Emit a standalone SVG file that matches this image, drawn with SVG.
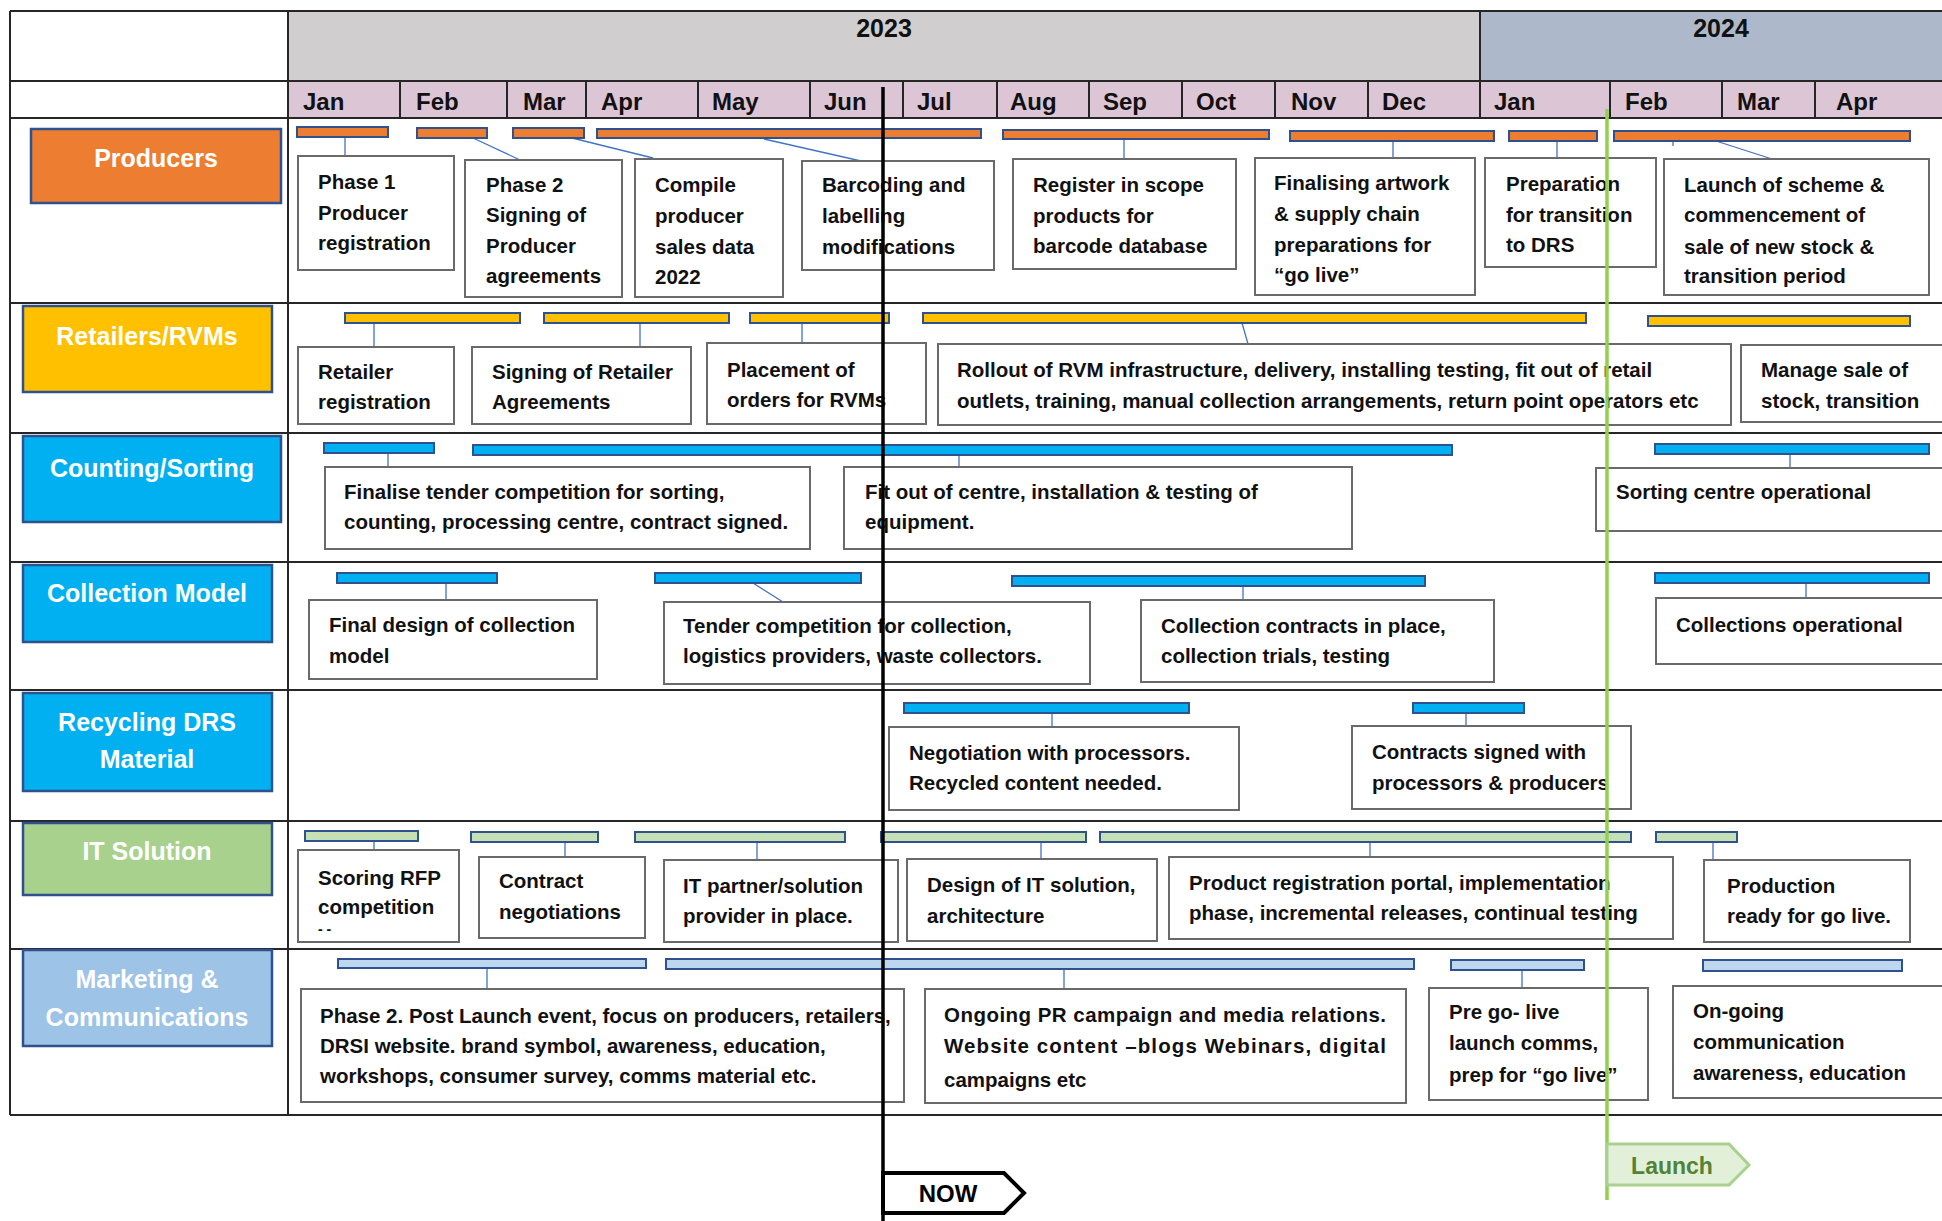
<svg xmlns="http://www.w3.org/2000/svg" width="1942" height="1221" viewBox="0 0 1942 1221">
<style>
.grid{stroke:#262626;stroke-width:2;fill:none}
.lbl{stroke:#2f528f;stroke-width:2.5}
.bar{stroke:#2f528f;stroke-width:2}
.box{fill:#fff;stroke:#6a6a6a;stroke-width:2}
.con{stroke:#4472c4;stroke-width:1.3;fill:none}
text{font-family:"Liberation Sans",Arial,sans-serif;font-weight:bold}
.t{font-size:20.5px;fill:#111}
.lt{font-size:25px;fill:#fff;text-anchor:middle}
.mt{font-size:24px;fill:#111}
.yt{font-size:25px;fill:#111;text-anchor:middle}
</style>
<rect width="1942" height="1221" fill="#fff"/>
<g id="table">
<rect x="288" y="11" width="1192" height="70" fill="#d0cece"/>
<rect x="1480" y="11" width="470" height="70" fill="#adb9ca"/>
<rect x="288" y="81" width="1662" height="37" fill="#dcc6d6"/>
<path class="grid" d="M10,11H1950M10,81H1950M10,118H1950M10,303H1950M10,433H1950M10,562H1950M10,690H1950M10,821H1950M10,949H1950M10,1115H1950M10,11V1115M288,11V1115M1480,11V118"/>
<path class="grid" d="M400,81V118M507,81V118M586,81V118M698,81V118M810,81V118M903,81V118M997,81V118M1089,81V118M1182,81V118M1275,81V118M1368,81V118M1610,81V118M1722,81V118M1815,81V118"/>
<text class="yt" x="884" y="37">2023</text>
<text class="yt" x="1721" y="37">2024</text>
<text class="mt" x="303" y="110">Jan</text>
<text class="mt" x="416" y="110">Feb</text>
<text class="mt" x="523" y="110">Mar</text>
<text class="mt" x="601" y="110">Apr</text>
<text class="mt" x="712" y="110">May</text>
<text class="mt" x="824" y="110">Jun</text>
<text class="mt" x="917" y="110">Jul</text>
<text class="mt" x="1010" y="110">Aug</text>
<text class="mt" x="1103" y="110">Sep</text>
<text class="mt" x="1196" y="110">Oct</text>
<text class="mt" x="1291" y="110">Nov</text>
<text class="mt" x="1382" y="110">Dec</text>
<text class="mt" x="1494" y="110">Jan</text>
<text class="mt" x="1625" y="110">Feb</text>
<text class="mt" x="1737" y="110">Mar</text>
<text class="mt" x="1836" y="110">Apr</text>
</g>
<g id="connectors">
<path class="con" d="M345,137V156M473,138L520,160M572,138L653,158M764,139L861,161M1124,139V159M1393,141V158M1557,141V158M1716,141L1772,159M1673,141V146"/>
<path class="con" d="M374,323V347M640,323V347M802,323V343M1242,323L1248,344"/>
<path class="con" d="M388,453V467M959,455V467M1790,455V468"/>
<path class="con" d="M446,583V600M753,583L783,602M1243,586V600M1806,583V598"/>
<path class="con" d="M1052,713V727M1466,713V726"/>
<path class="con" d="M374,841V850M565,842V857M757,842V860M1041,842V859M1370,842V857M1713,842V860"/>
<path class="con" d="M487,968V989M1064,969V989M1522,970V988"/>
</g>
<g id="producers">
<rect class="lbl" x="31" y="129" width="250" height="74" fill="#ed7d31"/>
<text class="lt" x="156" y="167">Producers</text>
<g fill="#ed7d31">
<rect class="bar" x="297" y="127" width="91" height="10"/>
<rect class="bar" x="417" y="128" width="70" height="10"/>
<rect class="bar" x="513" y="128" width="71" height="10"/>
<rect class="bar" x="597" y="129" width="384" height="9"/>
<rect class="bar" x="1003" y="130" width="266" height="9"/>
<rect class="bar" x="1290" y="131" width="204" height="10"/>
<rect class="bar" x="1509" y="131" width="88" height="10"/>
<rect class="bar" x="1614" y="131" width="296" height="10"/>
</g>
<g id="p-phase1"><rect class="box" x="298" y="156" width="156" height="114"/>
<text class="t" x="318" y="189">Phase 1</text><text class="t" x="318" y="220">Producer</text><text class="t" x="318" y="250">registration</text></g>
<g id="p-phase2"><rect class="box" x="465" y="160" width="157" height="137"/>
<text class="t" x="486" y="192">Phase 2</text><text class="t" x="486" y="222">Signing of</text><text class="t" x="486" y="253">Producer</text><text class="t" x="486" y="283">agreements</text></g>
<g id="p-compile"><rect class="box" x="635" y="159" width="148" height="138"/>
<text class="t" x="655" y="192">Compile</text><text class="t" x="655" y="223">producer</text><text class="t" x="655" y="254">sales data</text><text class="t" x="655" y="284">2022</text></g>
<g id="p-barcoding"><rect class="box" x="802" y="161" width="192" height="109"/>
<text class="t" x="822" y="192">Barcoding and</text><text class="t" x="822" y="223">labelling</text><text class="t" x="822" y="254">modifications</text></g>
<g id="p-register"><rect class="box" x="1013" y="159" width="223" height="110"/>
<text class="t" x="1033" y="192">Register in scope</text><text class="t" x="1033" y="223">products for</text><text class="t" x="1033" y="253">barcode database</text></g>
<g id="p-finalising"><rect class="box" x="1255" y="158" width="220" height="137"/>
<text class="t" x="1274" y="190">Finalising artwork</text><text class="t" x="1274" y="221">&amp; supply chain</text><text class="t" x="1274" y="252">preparations for</text><text class="t" x="1274" y="282">“go live”</text></g>
<g id="p-prep"><rect class="box" x="1485" y="158" width="171" height="109"/>
<text class="t" x="1506" y="191">Preparation</text><text class="t" x="1506" y="222">for transition</text><text class="t" x="1506" y="252">to DRS</text></g>
<g id="p-launch"><rect class="box" x="1664" y="159" width="265" height="136"/>
<text class="t" x="1684" y="192">Launch of scheme &amp;</text><text class="t" x="1684" y="222">commencement of</text><text class="t" x="1684" y="254">sale of new stock &amp;</text><text class="t" x="1684" y="283">transition period</text></g>
</g>
<g id="retailers">
<rect class="lbl" x="23" y="306" width="249" height="86" fill="#ffc000"/>
<text class="lt" x="147" y="345">Retailers/RVMs</text>
<g fill="#ffc000">
<rect class="bar" x="345" y="313" width="175" height="10"/>
<rect class="bar" x="544" y="313" width="185" height="10"/>
<rect class="bar" x="750" y="313" width="139" height="10"/>
<rect class="bar" x="923" y="313" width="663" height="10"/>
<rect class="bar" x="1648" y="316" width="262" height="10"/>
</g>
<g id="r-reg"><rect class="box" x="298" y="347" width="156" height="77"/>
<text class="t" x="318" y="379">Retailer</text><text class="t" x="318" y="409">registration</text></g>
<g id="r-sign"><rect class="box" x="472" y="347" width="219" height="77"/>
<text class="t" x="492" y="379">Signing of Retailer</text><text class="t" x="492" y="409">Agreements</text></g>
<g id="r-place"><rect class="box" x="707" y="343" width="219" height="81"/>
<text class="t" x="727" y="377">Placement of</text><text class="t" x="727" y="407">orders for RVMs</text></g>
<g id="r-rollout"><rect class="box" x="938" y="344" width="793" height="81"/>
<text class="t" x="957" y="377">Rollout of RVM infrastructure, delivery, installing testing, fit out of retail</text>
<text class="t" x="957" y="408">outlets, training, manual collection arrangements, return point operators etc</text></g>
<g id="r-manage"><rect class="box" x="1741" y="345" width="220" height="77"/>
<text class="t" x="1761" y="377">Manage sale of</text><text class="t" x="1761" y="408">stock, transition</text></g>
</g>
<g id="counting">
<rect class="lbl" x="23" y="436" width="258" height="86" fill="#00b0f0"/>
<text class="lt" x="152" y="477">Counting/Sorting</text>
<g fill="#00b0f0">
<rect class="bar" x="324" y="443" width="110" height="10"/>
<rect class="bar" x="473" y="445" width="979" height="10"/>
<rect class="bar" x="1655" y="444" width="274" height="10"/>
</g>
<g id="c-tender"><rect class="box" x="325" y="467" width="485" height="82"/>
<text class="t" x="344" y="499">Finalise tender competition for sorting,</text><text class="t" x="344" y="529">counting, processing centre, contract signed.</text></g>
<g id="c-fitout"><rect class="box" x="844" y="467" width="508" height="82"/>
<text class="t" x="865" y="499">Fit out of centre, installation &amp; testing of</text><text class="t" x="865" y="529">equipment.</text></g>
<g id="c-operational"><rect class="box" x="1596" y="468" width="365" height="63"/>
<text class="t" x="1616" y="499">Sorting centre operational</text></g>
</g>
<g id="collection">
<rect class="lbl" x="23" y="565" width="249" height="77" fill="#00b0f0"/>
<text class="lt" x="147" y="602">Collection Model</text>
<g fill="#00b0f0">
<rect class="bar" x="337" y="573" width="160" height="10"/>
<rect class="bar" x="655" y="573" width="206" height="10"/>
<rect class="bar" x="1012" y="576" width="413" height="10"/>
<rect class="bar" x="1655" y="573" width="274" height="10"/>
</g>
<g id="m-design"><rect class="box" x="309" y="600" width="288" height="79"/>
<text class="t" x="329" y="632">Final design of collection</text><text class="t" x="329" y="663">model</text></g>
<g id="m-tender"><rect class="box" x="664" y="602" width="426" height="82"/>
<text class="t" x="683" y="633">Tender competition for collection,</text><text class="t" x="683" y="663">logistics providers, waste collectors.</text></g>
<g id="m-contracts"><rect class="box" x="1141" y="600" width="353" height="82"/>
<text class="t" x="1161" y="633">Collection contracts in place,</text><text class="t" x="1161" y="663">collection trials, testing</text></g>
<g id="m-operational"><rect class="box" x="1656" y="598" width="305" height="66"/>
<text class="t" x="1676" y="632">Collections operational</text></g>
</g>
<g id="recycling">
<rect class="lbl" x="23" y="693" width="249" height="98" fill="#00b0f0"/>
<text class="lt" x="147" y="731">Recycling DRS</text>
<text class="lt" x="147" y="768">Material</text>
<g fill="#00b0f0">
<rect class="bar" x="904" y="703" width="285" height="10"/>
<rect class="bar" x="1413" y="703" width="111" height="10"/>
</g>
<g id="y-negotiation"><rect class="box" x="889" y="727" width="350" height="83"/>
<text class="t" x="909" y="760">Negotiation with processors.</text><text class="t" x="909" y="790">Recycled content needed.</text></g>
<g id="y-contracts"><rect class="box" x="1352" y="726" width="279" height="83"/>
<text class="t" x="1372" y="759">Contracts signed with</text><text class="t" x="1372" y="790">processors &amp; producers</text></g>
</g>
<g id="it">
<rect class="lbl" x="23" y="823" width="249" height="72" fill="#a9d18e"/>
<text class="lt" x="147" y="860">IT Solution</text>
<g fill="#c5e0b4">
<rect class="bar" x="305" y="831" width="113" height="10"/>
<rect class="bar" x="471" y="832" width="127" height="10"/>
<rect class="bar" x="635" y="832" width="210" height="10"/>
<rect class="bar" x="881" y="832" width="205" height="10"/>
<rect class="bar" x="1100" y="832" width="531" height="10"/>
<rect class="bar" x="1656" y="832" width="81" height="10"/>
</g>
<g id="i-scoring"><rect class="box" x="298" y="850" width="161" height="92"/>
<text class="t" x="318" y="885">Scoring RFP</text><text class="t" x="318" y="914">competition</text><text class="t" x="318" y="934" style="font-size:14px">- -</text></g>
<g id="i-contract"><rect class="box" x="479" y="857" width="166" height="81"/>
<text class="t" x="499" y="888">Contract</text><text class="t" x="499" y="919">negotiations</text></g>
<g id="i-partner"><rect class="box" x="664" y="860" width="234" height="82"/>
<text class="t" x="683" y="893">IT partner/solution</text><text class="t" x="683" y="923">provider in place.</text></g>
<g id="i-design"><rect class="box" x="907" y="859" width="250" height="82"/>
<text class="t" x="927" y="892">Design of IT solution,</text><text class="t" x="927" y="923">architecture</text></g>
<g id="i-portal"><rect class="box" x="1169" y="857" width="504" height="82"/>
<text class="t" x="1189" y="890">Product registration portal, implementation</text><text class="t" x="1189" y="920">phase, incremental releases, continual testing</text></g>
<g id="i-production"><rect class="box" x="1704" y="860" width="206" height="82"/>
<text class="t" x="1727" y="893">Production</text><text class="t" x="1727" y="923">ready for go live.</text></g>
</g>
<g id="marketing">
<rect class="lbl" x="23" y="950" width="249" height="96" fill="#9dc3e6"/>
<text class="lt" x="147" y="988">Marketing &amp;</text>
<text class="lt" x="147" y="1026">Communications</text>
<g fill="#bdd7ee">
<rect class="bar" x="338" y="959" width="308" height="9"/>
<rect class="bar" x="666" y="959" width="748" height="10"/>
<rect class="bar" x="1451" y="960" width="133" height="10"/>
<rect class="bar" x="1703" y="960" width="199" height="11"/>
</g>
<g id="k-phase2"><rect class="box" x="301" y="989" width="603" height="113"/>
<text class="t" x="320" y="1023">Phase 2. Post Launch event, focus on producers, retailers,</text>
<text class="t" x="320" y="1053">DRSI website. brand symbol, awareness, education,</text>
<text class="t" x="320" y="1083">workshops, consumer survey, comms material etc.</text></g>
<g id="k-ongoing-pr"><rect class="box" x="925" y="989" width="481" height="114"/>
<text class="t" x="944" y="1022" textLength="442" lengthAdjust="spacing">Ongoing PR campaign and media relations.</text>
<text class="t" x="944" y="1053" textLength="442" lengthAdjust="spacing">Website content –blogs Webinars, digital</text>
<text class="t" x="944" y="1087">campaigns etc</text></g>
<g id="k-prego"><rect class="box" x="1429" y="988" width="219" height="112"/>
<text class="t" x="1449" y="1019">Pre go- live</text><text class="t" x="1449" y="1050">launch comms,</text><text class="t" x="1449" y="1082">prep for “go live”</text></g>
<g id="k-ongoing"><rect class="box" x="1673" y="986" width="288" height="112"/>
<text class="t" x="1693" y="1018">On-going</text><text class="t" x="1693" y="1049">communication</text><text class="t" x="1693" y="1080">awareness, education</text></g>
</g>
<g id="now-marker">
<line x1="883" y1="87" x2="883" y2="1221" stroke="#000" stroke-width="3.5"/>
<path d="M883,1173H1004L1024,1193L1004,1213H883Z" fill="#fff" stroke="#000" stroke-width="4"/>
<text x="948" y="1202" text-anchor="middle" style="font-size:24px;fill:#000">NOW</text>
</g>
<g id="launch-marker">
<line x1="1607" y1="109" x2="1607" y2="1200" stroke="#92d050" stroke-width="3.5"/>
<path d="M1607,1144H1729L1749,1165L1729,1185H1607Z" fill="#e2f0d9" stroke="#a9d18e" stroke-width="3"/>
<text x="1672" y="1174" text-anchor="middle" style="font-size:23px;fill:#548235">Launch</text>
</g>
</svg>
